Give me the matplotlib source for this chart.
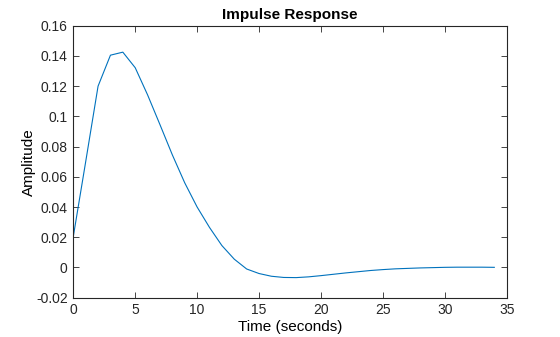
import numpy as np
import matplotlib.pyplot as plt
from matplotlib.ticker import FuncFormatter, MultipleLocator

plt.rcParams['font.family'] = ['Liberation Sans', 'DejaVu Sans']

# impulse response samples, dt = 1 s
t = np.arange(0, 35)
amp = np.array([0.0205, 0.070, 0.120, 0.1405, 0.1425, 0.1322, 0.1142, 0.0945,
                0.0745, 0.0560, 0.0400, 0.0265, 0.0145, 0.0055, -0.0010, -0.0040,
                -0.0058, -0.0066, -0.0067, -0.0062, -0.0054, -0.0045, -0.0036,
                -0.0028, -0.0020, -0.0014, -0.0009, -0.0006, -0.0003, -0.0001,
                0.0001, 0.0002, 0.0002, 0.0002, 0.0001])

fig = plt.figure(figsize=(5.6, 3.37), dpi=100)
ax = fig.add_axes([0.1309, 0.1166, 0.7739, 0.8071])

ax.plot(t, amp, color='#0072BD', lw=0.8)

ax.set_xlim(0, 35)
ax.set_ylim(-0.02, 0.16)
ax.xaxis.set_major_locator(MultipleLocator(5))
ax.yaxis.set_major_locator(MultipleLocator(0.02))
ax.yaxis.set_major_formatter(FuncFormatter(lambda v, p: '%g' % round(v, 4)))

ax.tick_params(direction='in', top=True, right=True, length=4, width=0.6,
               labelsize=10, colors='#262626', pad=4)
for s in ax.spines.values():
    s.set_linewidth(0.8)
    s.set_color('#262626')

ax.set_title('Impulse Response', fontsize=11, fontweight='bold', pad=5)
ax.set_xlabel('Time (seconds)', fontsize=11, labelpad=2)
ax.set_ylabel('Amplitude', fontsize=11, labelpad=0)

fig.savefig('out.png', dpi=100)
